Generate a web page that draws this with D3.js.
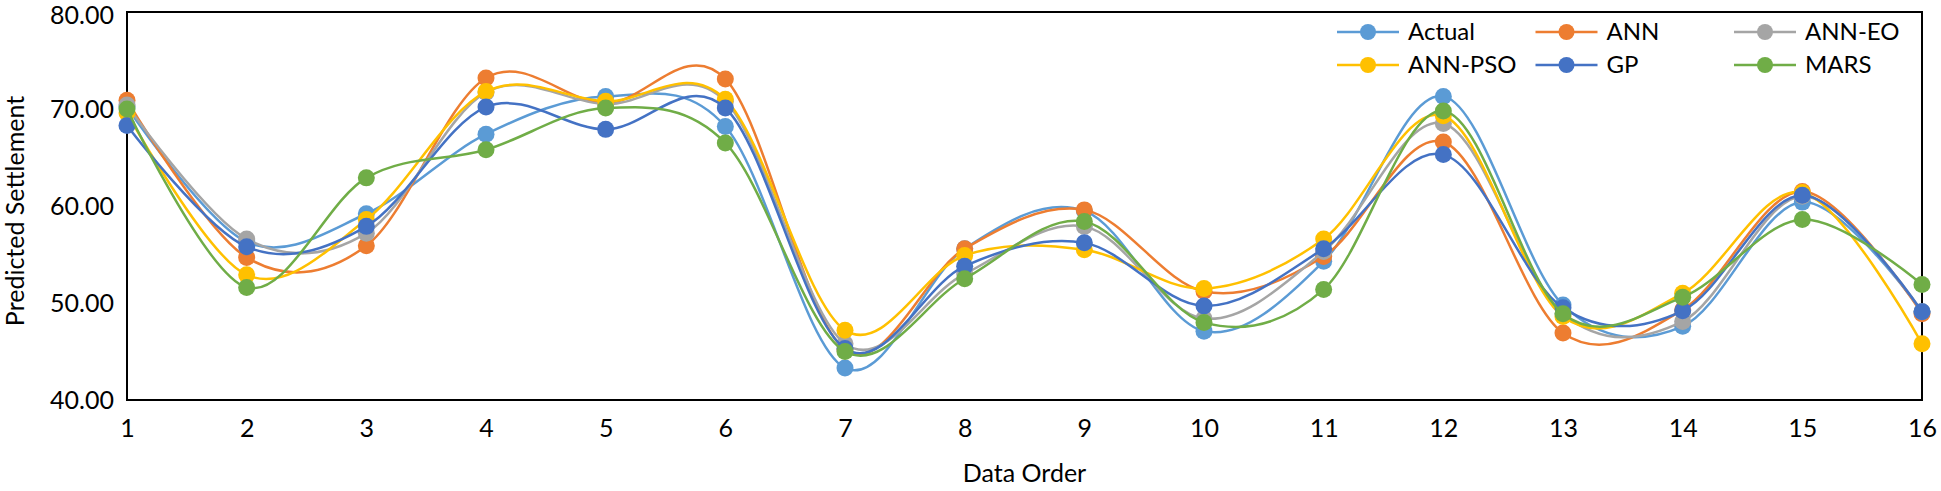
<!DOCTYPE html>
<html>
<head>
<meta charset="utf-8">
<script src="https://cdn.jsdelivr.net/npm/d3@7"></script>
<style>
  body { margin: 0; background: #fff; }
  text { font-family: Lato, "Open Sans", sans-serif; fill: #000; }
</style>
</head>
<body>
<div id="chart"></div>
<script>
const order = d3.range(1, 17);
const yTicks = [40, 50, 60, 70, 80];

const actual = [70.2, 56.3, 59.2, 67.4, 71.3, 68.2, 43.3, 55.6, 59.5, 47.1, 54.3, 71.3, 49.8, 47.6, 60.4, 49.1];
const ann    = [70.9, 54.7, 55.9, 73.2, 70.6, 73.1, 45.2, 55.6, 59.6, 51.2, 54.8, 66.6, 46.9, 49.3, 61.5, 48.9];
const annEo  = [70.4, 56.6, 57.2, 71.7, 70.5, 70.8, 45.8, 53.0, 57.9, 48.4, 55.3, 68.5, 48.9, 48.1, 61.0, 49.1];
const annPso = [69.6, 52.9, 58.6, 71.8, 70.8, 71.0, 47.2, 54.9, 55.5, 51.5, 56.6, 69.3, 48.6, 51.0, 61.4, 45.8];
const gp     = [68.3, 55.8, 57.9, 70.2, 67.9, 70.1, 45.3, 53.8, 56.2, 49.7, 55.6, 65.3, 49.5, 49.2, 61.1, 49.1];
const mars   = [70.0, 51.6, 62.9, 65.8, 70.1, 66.5, 45.0, 52.5, 58.4, 48.0, 51.4, 69.8, 48.9, 50.6, 58.6, 51.9];

const seriesNames = ["Actual", "ANN", "ANN-EO", "ANN-PSO", "GP", "MARS"];
const seriesValues = [actual, ann, annEo, annPso, gp, mars];
const colors = ["#5B9BD5", "#ED7D31", "#A5A5A5", "#FFC000", "#4472C4", "#70AD47"];

const W = 1941, H = 491;
const margin = {top: 12, right: 19, bottom: 91, left: 127};
const width = W - margin.left - margin.right;
const height = H - margin.top - margin.bottom;

const svg = d3.select("#chart").append("svg")
    .attr("width", W)
    .attr("height", H);

const x = d3.scaleLinear().domain([1, 16]).range([0, width]);
const y = d3.scaleLinear().domain([40, 80]).range([height, 0]);

const g = svg.append("g")
    .attr("transform", `translate(${margin.left},${margin.top})`);

// axes (labels only, no tick marks)
const yAxis = g.append("g")
    .call(d3.axisLeft(y).tickValues(yTicks).tickFormat(d3.format(".2f")).tickSize(0).tickPadding(13));
yAxis.select(".domain").remove();
yAxis.selectAll("text")
    .attr("font-size", 25)
    .attr("font-family", "Lato, sans-serif")
    .attr("dy", d => d === 80 ? "0.45em" : "0.34em");

const xAxis = g.append("g")
    .attr("transform", `translate(0,${height})`)
    .call(d3.axisBottom(x).tickValues(order).tickFormat(d3.format("d")).tickSize(0).tickPadding(19));
xAxis.select(".domain").remove();
xAxis.selectAll("text").attr("font-size", 25).attr("font-family", "Lato, sans-serif");

// plot border
g.append("rect")
    .attr("width", width)
    .attr("height", height)
    .attr("fill", "none")
    .attr("stroke", "#000")
    .attr("stroke-width", 2);

const line = d3.line()
    .x((d, i) => x(order[i]))
    .y(d => y(d))
    .curve(d3.curveCatmullRom.alpha(0));

seriesValues.forEach((vals, s) => {
    const sg = g.append("g");
    sg.append("path")
        .datum(vals)
        .attr("fill", "none")
        .attr("stroke", colors[s])
        .attr("stroke-width", 2.5)
        .attr("d", line);
    sg.selectAll("circle")
        .data(vals)
        .enter().append("circle")
        .attr("cx", (d, i) => x(order[i]))
        .attr("cy", d => y(d))
        .attr("r", 8.5)
        .attr("fill", colors[s]);
});

// legend, 3 columns x 2 rows
const legend = svg.append("g");
seriesNames.forEach((name, i) => {
    const cx = 1368 + (i % 3) * 198.5;
    const cy = 32 + Math.floor(i / 3) * 33;
    legend.append("line")
        .attr("x1", cx - 31).attr("x2", cx + 31)
        .attr("y1", cy).attr("y2", cy)
        .attr("stroke", colors[i]).attr("stroke-width", 2.5);
    legend.append("circle")
        .attr("cx", cx).attr("cy", cy).attr("r", 8)
        .attr("fill", colors[i]);
    legend.append("text")
        .attr("x", cx + 40).attr("y", cy)
        .attr("dy", "0.35em")
        .attr("font-size", 24)
        .text(name);
});

// axis titles
svg.append("text")
    .attr("x", margin.left + width / 2)
    .attr("y", 473)
    .attr("text-anchor", "middle")
    .attr("dy", "0.35em")
    .attr("font-size", 25)
    .text("Data Order");

svg.append("text")
    .attr("transform", `translate(15,${margin.top + height / 2 + 5}) rotate(-90)`)
    .attr("text-anchor", "middle")
    .attr("dy", "0.35em")
    .attr("font-size", 25)
    .text("Predicted Settlement");
</script>
</body>
</html>
